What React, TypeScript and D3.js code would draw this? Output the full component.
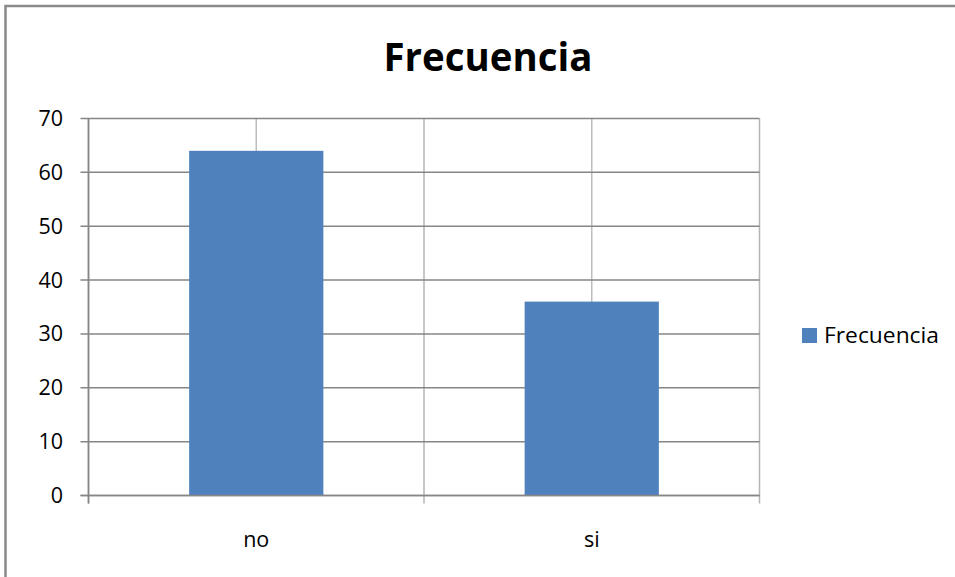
import React from "react";
import * as d3 from "d3";

const categories = ["no", "si"];
const values = [64, 36];
const yTicks = [0, 10, 20, 30, 40, 50, 60, 70];
const seriesName = "Frecuencia";
const title = "Frecuencia";

export default function App() {
  const W = 955, H = 577;
  const left = 88.5, right = 759.5, top = 118.5, bottom = 495.5;
  const y = d3.scaleLinear().domain([0, 70]).range([bottom, top]);
  const x = d3.scaleBand().domain(categories).range([left, right]).paddingInner(0).paddingOuter(0);
  const barW = x.bandwidth() * 0.4;
  const font = "'Open Sans', 'Liberation Sans', sans-serif";
  return (
    <svg width={W} height={H} style={{ position: "absolute", left: 0, top: 0, background: "#fff" }}>
      <rect x={5.5} y={6} width={1000} height={600} fill="#fff" stroke="#8a8a8a" strokeWidth={2.5} />
      <text x={488} y={71} textAnchor="middle" fontFamily={font} fontWeight="bold" fontSize={39} textLength={209} lengthAdjust="spacingAndGlyphs" fill="#000">{title}</text>
      {categories.map((c) => (
        <line key={"vg" + c} x1={x(c)! + x.bandwidth() / 2} x2={x(c)! + x.bandwidth() / 2} y1={top} y2={bottom} stroke="#bdbdbd" strokeWidth={1.5} />
      ))}
      {[...categories.map((c) => x(c)!), right].map((v, i) => (
        <line key={"vb" + i} x1={v} x2={v} y1={top} y2={bottom + 8} stroke={i === 0 ? "#868686" : "#b5b5b5"} strokeWidth={1.5} />
      ))}
      {yTicks.map((t) => (
        <line key={"hg" + t} x1={left - 8} x2={right} y1={y(t)} y2={y(t)} stroke="#868686" strokeWidth={1.5} />
      ))}
      {categories.map((c, i) => (
        <rect key={"b" + c} x={x(c)! + x.bandwidth() / 2 - barW / 2} y={y(values[i])} width={barW} height={bottom - y(values[i])} fill="#4f81bd" />
      ))}
      <line x1={left - 8} x2={right} y1={bottom} y2={bottom} stroke="#868686" strokeWidth={1.5} />
      <line x1={left} x2={left} y1={top} y2={bottom + 8} stroke="#868686" strokeWidth={1.5} />
      {yTicks.map((t) => (
        <text key={"yl" + t} x={63} y={y(t) + 7.5} textAnchor="end" fontFamily={font} fontSize={21.5} fill="#000">{t}</text>
      ))}
      {categories.map((c) => (
        <text key={"xl" + c} x={x(c)! + x.bandwidth() / 2} y={547} textAnchor="middle" fontFamily={font} fontSize={21.5} fill="#000">{c}</text>
      ))}
      <rect x={802} y={328} width={15} height={15} fill="#4f81bd" />
      <text x={824} y={343} fontFamily={font} fontSize={22} textLength={115} lengthAdjust="spacingAndGlyphs" fill="#000">{seriesName}</text>
    </svg>
  );
}
